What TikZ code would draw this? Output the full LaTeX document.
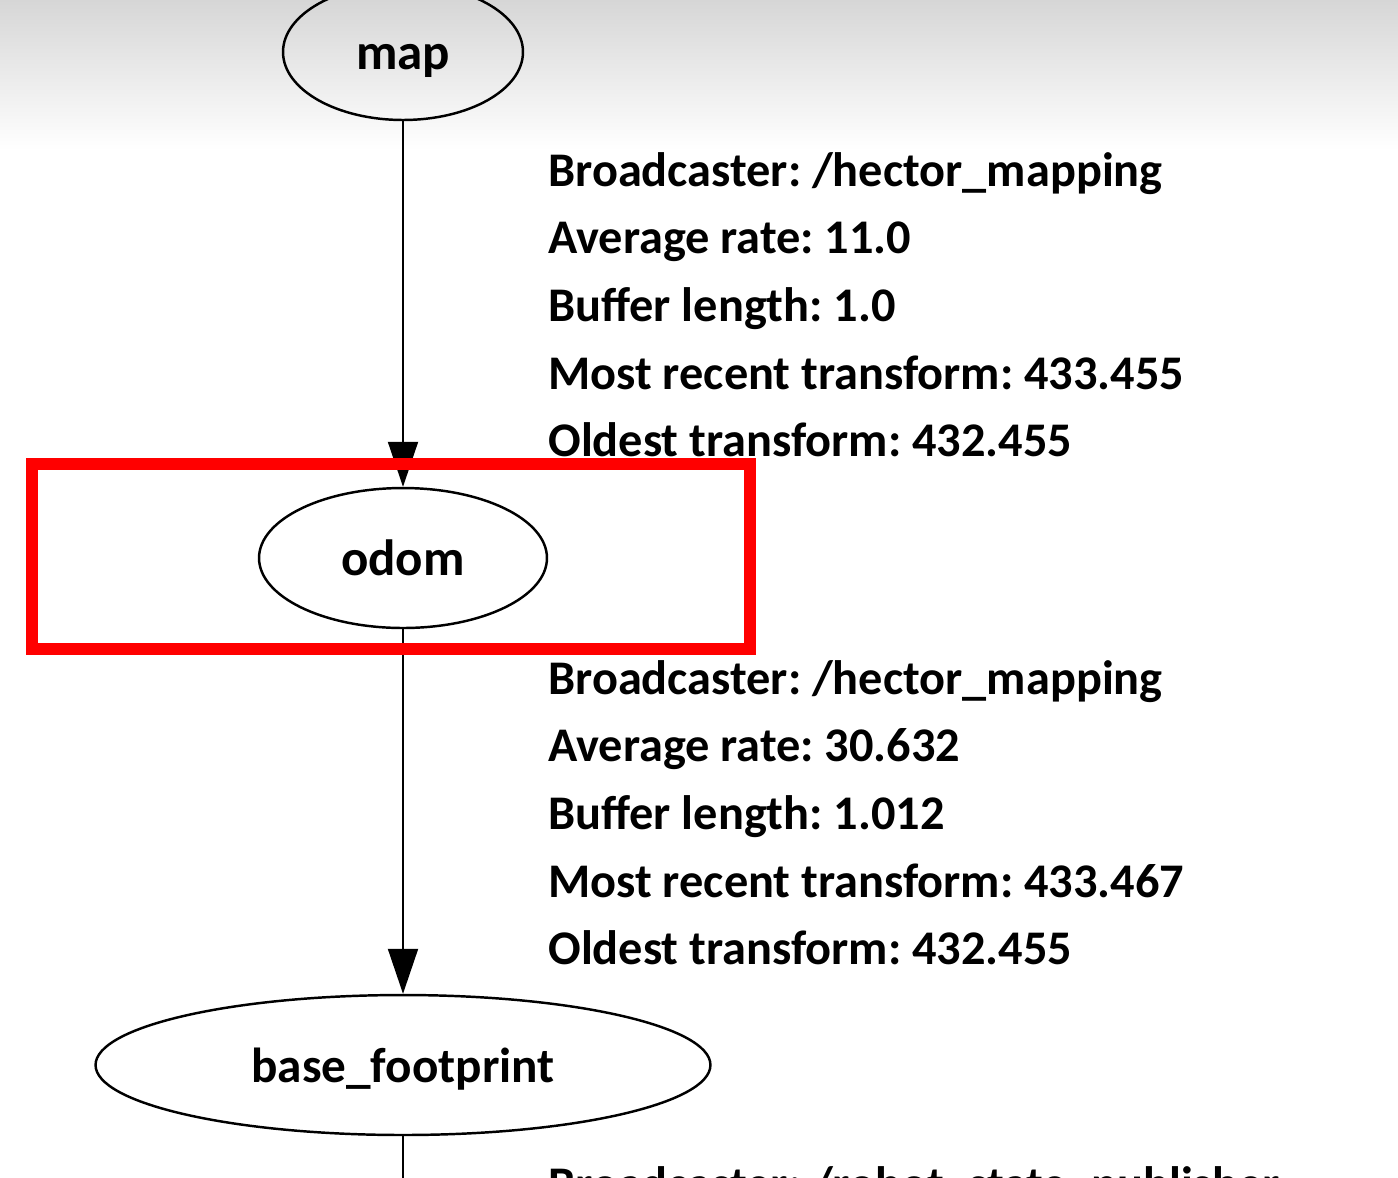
\documentclass[tikz,border=0pt]{standalone}
\usepackage{fontspec}
\setmainfont{Carlito}
\usetikzlibrary{shapes.geometric,arrows.meta}
\definecolor{boxred}{HTML}{FF0000}
\tikzset{
  frame/.style={ellipse, draw=black, line width=1.4pt, inner sep=0pt, text height=20pt, text depth=0pt, font=\fontsize{29}{32}\selectfont\bfseries},
  edge/.style={draw=black, line width=1.1pt, -{Triangle[length=0.9cm,width=0.6cm]}},
  info/.style={anchor=base west, inner sep=0pt, font=\fontsize{27.5}{32}\selectfont\bfseries\frenchspacing}
}
\begin{document}
\begin{tikzpicture}[x=0.02cm,y=-0.02cm]
\useasboundingbox (0,0) rectangle (1398,1177);
\clip (0,0) rectangle (1398,1177);
\shade[top color=black!16, bottom color=white] (0,0) rectangle (1398,150);
% nodes
\node[frame, minimum width=4.8cm, minimum height=2.72cm] (map) at (403,52) {map};
\node[frame, minimum width=5.76cm, minimum height=2.8cm] (odom) at (403,558) {odom};
\node[frame, minimum width=12.3cm, minimum height=2.8cm, font=\fontsize{28}{32}\selectfont\bfseries] (base) at (403,1065) {base\_footprint};
\coordinate (down) at (403,1200);
% edges
\draw[edge] (map) -- (odom);
\draw[edge] (odom) -- (base);
\draw[line width=1.1pt] (base) -- (down);
% labels
\node[info] (a1) at (548,186) {Broadcaster: /hector\_mapping};
\node[info] (a2) at (548,253.7) {Average rate: 11.0};
\node[info] (a3) at (548,321.4) {Buffer length: 1.0};
\node[info] (a4) at (548,389.1) {Most recent transform: 433.455};
\node[info] (a5) at (548,456.8) {Oldest transform: 432.455};
\node[info] (b1) at (548,694) {Broadcaster: /hector\_mapping};
\node[info] (b2) at (548,761.7) {Average rate: 30.632};
\node[info] (b3) at (548,829.4) {Buffer length: 1.012};
\node[info] (b4) at (548,897.1) {Most recent transform: 433.467};
\node[info] (b5) at (548,964.8) {Oldest transform: 432.455};
\node[info] (c1) at (548,1200) {Broadcaster: /robot\_state\_publisher};
% highlight
\draw[boxred, line width=6.8pt] (32,464) rectangle (750,649);
\end{tikzpicture}
\end{document}
